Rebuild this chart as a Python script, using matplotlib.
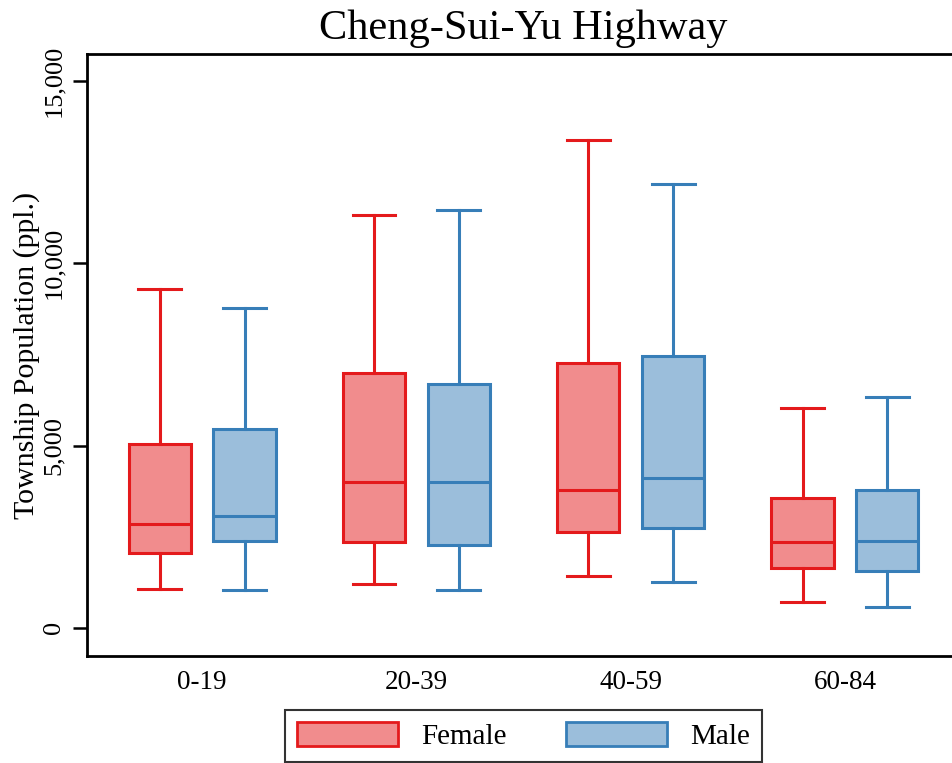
import matplotlib
matplotlib.use("Agg")
import matplotlib.pyplot as plt
from matplotlib.patches import Patch

plt.rcParams['font.family'] = ['Liberation Serif', 'DejaVu Serif']

groups = ["0-19", "20-39", "40-59", "60-84"]
series = ["Female", "Male"]

# whislo, q1, median, q3, whishi for each group
female_low = [1070, 1200, 1430, 710]
female_q1 = [2060, 2370, 2630, 1640]
female_med = [2860, 4010, 3790, 2370]
female_q3 = [5050, 7000, 7260, 3570]
female_high = [9290, 11320, 13390, 6020]

male_low = [1050, 1050, 1260, 580]
male_q1 = [2380, 2270, 2740, 1560]
male_med = [3060, 4010, 4110, 2380]
male_q3 = [5460, 6680, 7450, 3790]
male_high = [8770, 11470, 12180, 6330]

yticks = [0, 5000, 10000, 15000]
ytick_labels = ["0", "5,000", "10,000", "15,000"]

edge_colors = {"Female": "#E41A1C", "Male": "#377EB8"}
fill_colors = {"Female": "#F18C8D", "Male": "#9BBEDB"}

fig = plt.figure(figsize=(9.52, 7.63), dpi=100)
ax = fig.add_axes([87/952, 107/763, (960-87)/952, (656-54)/763])

data = {
    "Female": (female_low, female_q1, female_med, female_q3, female_high),
    "Male": (male_low, male_q1, male_med, male_q3, male_high),
}
offsets = {"Female": -0.198, "Male": 0.198}

for s in series:
    lo, q1, med, q3, hi = data[s]
    stats = []
    for i in range(len(groups)):
        stats.append(dict(whislo=lo[i], q1=q1[i], med=med[i], q3=q3[i], whishi=hi[i], fliers=[]))
    pos = [i + 1 + offsets[s] for i in range(len(groups))]
    ec = edge_colors[s]
    ax.bxp(stats, positions=pos, widths=0.29, patch_artist=True, showfliers=False,
           boxprops=dict(facecolor=fill_colors[s], edgecolor=ec, linewidth=2.2),
           medianprops=dict(color=ec, linewidth=2.2),
           whiskerprops=dict(color=ec, linewidth=2.2),
           capprops=dict(color=ec, linewidth=2.2),
           capwidths=0.2, manage_ticks=False)

ax.set_xlim(0.463, 4.537)
ax.set_ylim(-770, 15740)
ax.set_xticks(range(1, len(groups) + 1))
ax.set_xticklabels(groups, fontsize=19.5)
ax.tick_params(axis='x', length=0, pad=10)
ax.set_yticks(yticks)
ax.set_yticklabels(ytick_labels, fontsize=19, rotation=90, va='center')
ax.tick_params(axis='y', length=10, width=1.8, pad=6)
for sp in ax.spines.values():
    sp.set_linewidth(2)
ax.set_ylabel("Township Population (ppl.)", fontsize=21.5, labelpad=2)

fig.text(523/952, 1 - 39/763, "Cheng-Sui-Yu Highway", fontsize=30.5,
         ha='center', va='baseline')

handles = [Patch(facecolor=fill_colors[s], edgecolor=edge_colors[s], linewidth=2) for s in series]
leg = fig.legend(handles, series, loc='center', bbox_to_anchor=(523.5/952, 1 - 736/763), ncol=2,
                 fontsize=21, frameon=True, fancybox=False, edgecolor='black',
                 handlelength=3.46, handleheight=0.89, handletextpad=0.78, columnspacing=2.05,
                 borderpad=0.42)
leg.get_frame().set_linewidth(1.5)

fig.savefig("out.png", dpi=100)
